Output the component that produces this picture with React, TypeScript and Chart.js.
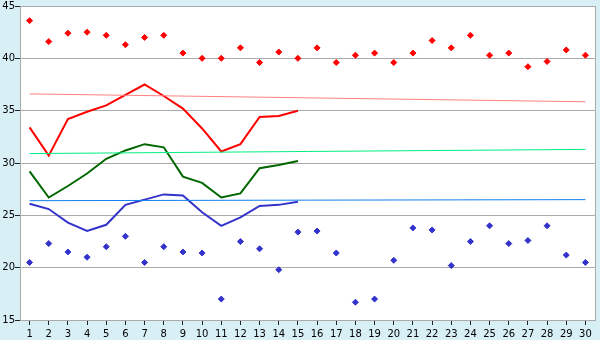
import React, { useEffect, useRef } from "react";
import { Chart, registerables } from "chart.js";

Chart.register(...registerables);

const days = Array.from({ length: 30 }, (_, i) => String(i + 1));

const redDots = [43.6, 41.6, 42.4, 42.5, 42.2, 41.3, 42.0, 42.2, 40.5, 40.0, 40.0, 41.0, 39.6, 40.6, 40.0, 41.0, 39.6, 40.3, 40.5, 39.6, 40.5, 41.7, 41.0, 42.2, 40.3, 40.5, 39.2, 39.7, 40.8, 40.3];
const blueDots = [20.5, 22.3, 21.5, 21.0, 22.0, 23.0, 20.5, 22.0, 21.5, 21.4, 17.0, 22.5, 21.8, 19.8, 23.4, 23.5, 21.4, 16.7, 17.0, 20.7, 23.8, 23.6, 20.2, 22.5, 24.0, 22.3, 22.6, 24.0, 21.2, 20.5];

const redLine = [33.4, 30.7, 34.2, 34.9, 35.5, 36.5, 37.5, 36.4, 35.2, 33.3, 31.1, 31.8, 34.4, 34.5, 35.0];
const greenLine = [29.2, 26.7, 27.8, 29.0, 30.4, 31.2, 31.8, 31.5, 28.7, 28.1, 26.7, 27.1, 29.5, 29.8, 30.2];
const blueLine = [26.1, 25.6, 24.3, 23.5, 24.1, 26.0, 26.5, 27.0, 26.9, 25.3, 24.0, 24.8, 25.9, 26.0, 26.3];

// reference lines: start value (day 1) and end value (day 30)
const redRef = [36.6, 35.85];
const greenRef = [30.9, 31.3];
const blueRef = [26.4, 26.5];

const pad = (arr: number[]) => [...arr, ...Array(30 - arr.length).fill(null)];
const ends = (pair: number[]) => days.map((_, i) => (i === 0 ? pair[0] : i === days.length - 1 ? pair[1] : null));

const BG = "#d9eff6";

const bgPlugin = {
  id: "bgPlugin",
  beforeDraw(chart: any) {
    const { ctx, chartArea: a, width, height } = chart;
    ctx.save();
    ctx.fillStyle = BG;
    ctx.fillRect(0, 0, width, height);
    ctx.fillStyle = "#ffffff";
    ctx.fillRect(a.left, a.top, a.right - a.left, a.bottom - a.top);
    ctx.restore();
  },
  afterDraw(chart: any) {
    const { ctx, chartArea: a } = chart;
    ctx.save();
    ctx.strokeStyle = "#aaaaaa";
    ctx.lineWidth = 1;
    ctx.beginPath();
    ctx.moveTo(Math.round(a.right) + 0.5, a.top);
    ctx.lineTo(Math.round(a.right) + 0.5, a.bottom);
    ctx.stroke();
    ctx.restore();
  },
};

export default function App() {
  const ref = useRef<HTMLCanvasElement>(null);
  useEffect(() => {
    document.body.style.margin = "0";
    const font = { family: "DejaVu Sans", size: 10 };
    const chart = new Chart(ref.current!, {
      type: "line",
      data: {
        labels: days,
        datasets: [
          { data: ends(redRef), borderColor: "#ff8080", borderWidth: 1, pointRadius: 0, spanGaps: true },
          { data: ends(greenRef), borderColor: "#00f080", borderWidth: 1, pointRadius: 0, spanGaps: true },
          { data: ends(blueRef), borderColor: "#1080f0", borderWidth: 1, pointRadius: 0, spanGaps: true },
          { data: pad(redLine), borderColor: "#ff0000", borderWidth: 2, pointRadius: 0 },
          { data: pad(greenLine), borderColor: "#006600", borderWidth: 2, pointRadius: 0 },
          { data: pad(blueLine), borderColor: "#3333cc", borderWidth: 2, pointRadius: 0 },
          { data: redDots, showLine: false, pointStyle: "rectRot", pointRadius: 3, borderWidth: 1, backgroundColor: "#ff0000", borderColor: "#ff0000" },
          { data: blueDots, showLine: false, pointStyle: "rectRot", pointRadius: 3, borderWidth: 1, backgroundColor: "#3333cc", borderColor: "#3333cc" },
        ],
      },
      options: {
        responsive: false,
        animation: false,
        layout: { padding: { top: 5, right: 5, left: 0, bottom: 0 } },
        plugins: { legend: { display: false }, tooltip: { enabled: false } },
        elements: { line: { tension: 0 } },
        scales: {
          x: {
            type: "category",
            offset: true,
            afterFit: (s: any) => { s.height = 20; },
            grid: { drawOnChartArea: false, drawTicks: true, tickLength: 5, tickColor: "#222222" },
            border: { color: "#aaaaaa" },
            ticks: { font, color: "#000000", padding: 3, maxRotation: 0, autoSkip: false },
          },
          y: {
            min: 15,
            max: 45,
            afterFit: (s: any) => { s.width = 20; },
            grid: { color: "#aaaaaa", tickLength: 5, tickColor: "#222222" },
            border: { color: "#aaaaaa" },
            ticks: { font, color: "#000000", stepSize: 5, padding: 0 },
          },
        },
      },
      plugins: [bgPlugin],
    });
    return () => chart.destroy();
  }, []);
  return (
    <div style={{ position: "absolute", left: 0, top: 0, width: 600, height: 340 }}>
      <canvas ref={ref} width={600} height={340} />
    </div>
  );
}
